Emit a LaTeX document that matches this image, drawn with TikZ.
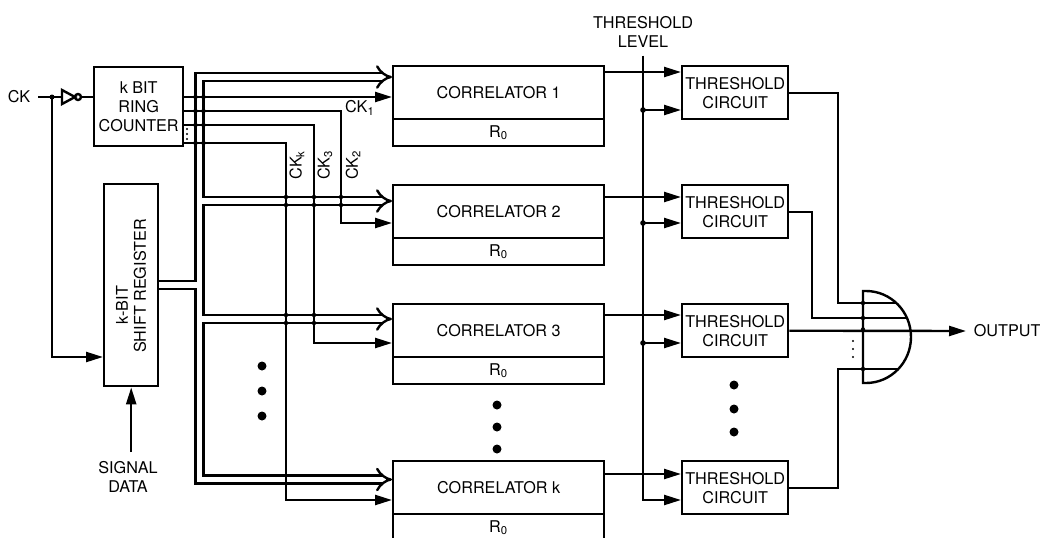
\documentclass[tikz,border=0pt]{standalone}
\usepackage{fontspec}
\setmainfont{TeX Gyre Heros}
\usetikzlibrary{arrows.meta}
\tikzset{
  blk/.style={draw, line width=1.2pt, inner sep=0pt, anchor=north west, align=center},
  cor/.style={blk, minimum width=105.5pt, minimum height=26.5pt},
  rz/.style={draw, line width=1.2pt, inner sep=0pt, outer sep=0pt, anchor=north, minimum width=105.5pt, minimum height=13.5pt},
  thr/.style={blk, minimum width=53pt, minimum height=26.5pt},
  sig/.style={line width=1.2pt, -{Triangle[length=8.5pt,width=5pt]}},
  bus/.style={line width=1.2pt, double, double distance=2.8pt},
}
\begin{document}
\begin{tikzpicture}[x=0.5pt, y=-0.5pt, line width=1.2pt, font=\fontsize{8.1}{9.6}\selectfont]
\useasboundingbox (0,0) rectangle (1040,537);
\clip (0,0) rectangle (1040,537);

% blocks
\node[blk, minimum width=44.5pt, minimum height=39.5pt] (rc) at (93,66) {k BIT\\RING\\COUNTER};
\node[blk, minimum width=27pt, minimum height=101pt] (sr) at (103,183) {};
\node[rotate=90] (srk) at (122,305) {k-BIT};
\node[rotate=90] (srn) at (140,286) {SHIFT REGISTER};
\foreach \i/\ty in {1/65, 2/184, 3/303, k/460}{
  \node[cor] (cor\i) at (392,\ty) {CORRELATOR \i};
  \node[rz] (rz\i) at ([yshift=0.6pt]cor\i.south) {R\textsubscript{0}};
  \node[thr] (th\i) at (681,\ty) {THRESHOLD\\CIRCUIT};
}
\node (ck) at (19,97) {CK};
\node[align=center] (sd) at (128,477) {SIGNAL\\DATA};
\node[align=center] (tl) at (643,32) {THRESHOLD\\LEVEL};
\node[anchor=west] (out) at (966,331) {OUTPUT};
\node (l1) at (360,108) {CK\textsubscript{1}};
\node[rotate=90] (l2) at (353,165) {CK\textsubscript{2}};
\node[rotate=90] (l3) at (325,165) {CK\textsubscript{3}};
\node[rotate=90] (lk) at (297,165) {CK\textsubscript{k}};

% clock in and inverter
\coordinate (ckj) at (52,97);
\draw (ck.east) -- (62,97);
\draw (62,90) -- (75,97) -- (62,104) -- cycle;
\draw (78,97) circle[radius=3];
\draw (81,97) -- (rc.west |- ckj);
\fill (ckj) circle[radius=2.5];
\draw[sig] (ckj) |- (sr.west |- 0,357);
\draw[sig] (sr.south |- 0,452) -- (sr.south);

% data bus
\draw[bus, {Implies}-{Implies}] (cor1.west |- 0,77) -| (199.5,479.5) -- (cork.west |- 0,479.5);
\foreach \y in {201, 319} \draw[bus, -{Implies}] (202.3,\y) -- (cor1.west |- 0,\y);
\draw[bus] (sr.east |- 0,285) -- (196.7,285);

% ring counter outputs
\draw[sig] (rc.east |- 0,97) -- (cor1.west |- 0,97);
\draw[sig] (rc.east |- 0,111) -| (341,223) -- (cor2.west |- 0,223);
\draw[sig] (rc.east |- 0,125) -| (314,343) -- (cor3.west |- 0,343);
\draw[sig] (rc.east |- 0,143) -| (286,500) -- (cork.west |- 0,500);
\foreach \y in {129,134,139} \fill (187,\y) circle[radius=1.2];
\foreach \x/\y in {195.5/97, 203.5/97, 195.5/111, 203.5/111, 195.5/125, 203.5/125, 195.5/143, 203.5/143,
  286/197, 286/205, 314/197, 314/205, 341/197, 341/205, 286/315, 286/323, 314/315, 314/323}
  \fill (\x,\y) circle[radius=2.2];

% threshold level
\draw[sig] (tl.south) |- (thk.west |- 0,500);
\foreach \i/\y in {1/110, 2/223, 3/343}{
  \fill (tl.south |- 0,\y) circle[radius=2.8];
  \draw[sig] (tl.south |- 0,\y) -- (th\i.west |- 0,\y);
}
\foreach \i/\y in {1/72, 2/197, 3/315, k/474}
  \draw[sig] (cor\i.east |- 0,\y) -- (th\i.west |- 0,\y);

% output gate
\draw (863,291) -- (866,291) arc[start angle=-90, end angle=90, x radius=45, y radius=46] -- (863,383) -- cycle;
\begin{scope}
  \clip (863,291) -- (866,291) arc[start angle=-90, end angle=90, x radius=45, y radius=46] -- (863,383) -- cycle;
  \foreach \y in {303,318,369} \draw (863,\y) -- (920,\y);
\end{scope}
\draw (th1.east) -| (838,303) -- (863,303);
\draw (th2.east) -| (812,318) -- (863,318);
\draw (thk.east) -| (838,369) -- (863,369);
\draw[sig] (th3.east) -- (out.west);
\foreach \y in {303,318,329.5,369} \fill (863,\y) circle[radius=2.2];
\foreach \y in {341,349,357} \fill (853,\y) circle[radius=1.2];

% ellipsis dots
\foreach \y in {366,391,416} \fill (262,\y) circle[radius=4.5];
\foreach \y in {405,427,449} \fill (497,\y) circle[radius=4.5];
\foreach \y in {385,409,432} \fill (734,\y) circle[radius=4.5];
\end{tikzpicture}
\end{document}
